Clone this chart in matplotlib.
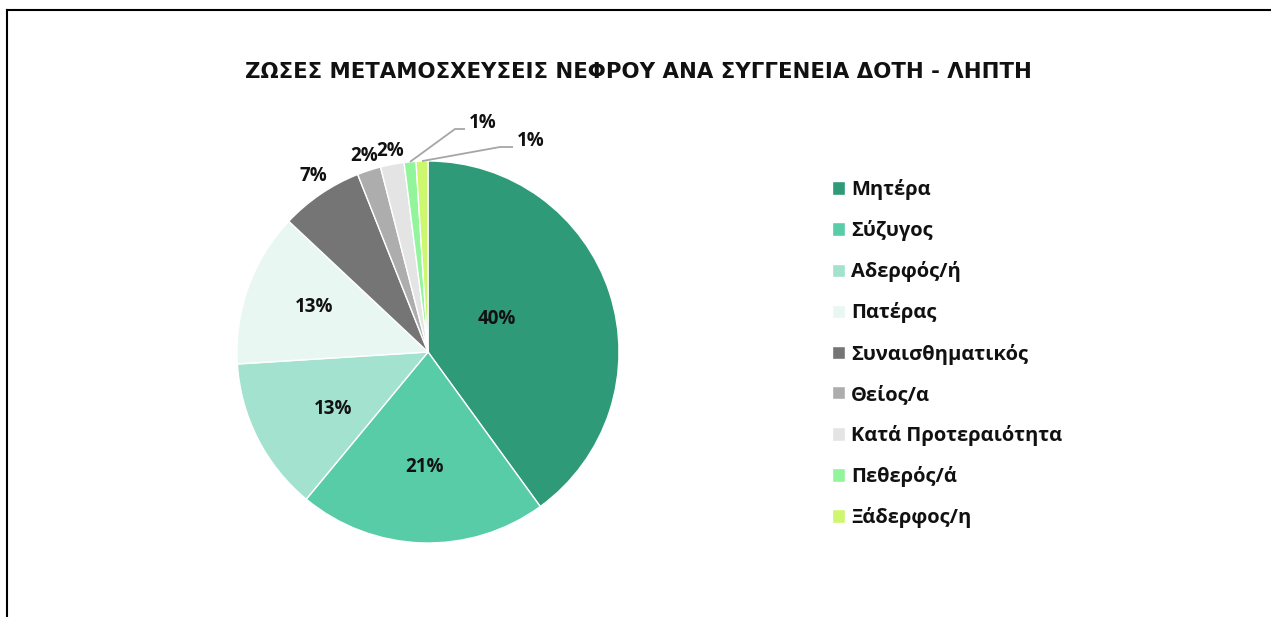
import numpy as np
import matplotlib.pyplot as plt
from matplotlib.lines import Line2D

plt.rcParams['font.family'] = ['Open Sans', 'DejaVu Sans']

title = 'ΖΩΣΕΣ ΜΕΤΑΜΟΣΧΕΥΣΕΙΣ ΝΕΦΡΟΥ ΑΝΑ ΣΥΓΓΕΝΕΙΑ ΔΟΤΗ - ΛΗΠΤΗ'
categories = ['Μητέρα', 'Σύζυγος', 'Αδερφός/ή', 'Πατέρας', 'Συναισθηματικός',
              'Θείος/α', 'Κατά Προτεραιότητα', 'Πεθερός/ά', 'Ξάδερφος/η']
values = [40, 21, 13, 13, 7, 2, 2, 1, 1]
colors = ['#2f9a78', '#58cca7', '#a3e2cf', '#e9f7f2', '#757575',
          '#adadad', '#e4e4e4', '#92f59b', '#cdf76e']

W, H = 1271, 617
fig = plt.figure(figsize=(W / 100, H / 100), dpi=100)

# pie centre / radius in pixels
cx, cy, R = 428, 352, 191
ax = fig.add_axes([(cx - R) / W, (H - cy - R) / H, 2 * R / W, 2 * R / H])
wedges, _ = ax.pie(values, colors=colors, startangle=90, counterclock=False,
                   radius=1, wedgeprops=dict(edgecolor='white', linewidth=1))
ax.set_xlim(-1, 1)
ax.set_ylim(-1, 1)
ax.set_aspect('equal')
ax.axis('off')

# label placement (radius, angle tweak) per slice
lab_r = [0.40, 0.60, 0.58, 0.64, 1.10, 1.08, 1.07, None, None]
lab_da = [8, 0, 4, -2, -1, 0, 0, 0, 0]
for i, w in enumerate(wedges):
    pct = f'{values[i]}%'
    mid = np.deg2rad((w.theta1 + w.theta2) / 2)
    if lab_r[i] is not None:
        a = mid + np.deg2rad(lab_da[i])
        ax.text(lab_r[i] * np.cos(a), lab_r[i] * np.sin(a), pct,
                ha='center', va='center', fontsize=13.5, fontweight='bold',
                color='#111111')

# leader lines for the two 1% slices
leaders = [((455 - cx) / R, (cy - 129) / R, (465 - cx) / R),
           ((500 - cx) / R, (cy - 147) / R, (513 - cx) / R)]
for w, (ex, ey, hx) in zip(wedges[7:], leaders):
    mid = np.deg2rad((w.theta1 + w.theta2) / 2)
    sx, sy = 1.0 * np.cos(mid), 1.0 * np.sin(mid)
    ax.plot([sx, ex, hx], [sy, ey, ey], color='#a6a6a6', lw=1.3,
            clip_on=False, solid_capstyle='butt')
    ax.text(hx + 0.02, ey + 0.03, '1%', ha='left', va='center',
            fontsize=13.5, fontweight='bold', color='#111111')

fig.text(638 / W, 1 - 72 / H, title, ha='center', va='center',
         fontsize=15.3, fontweight='bold', color='#111111',
         family='DejaVu Sans')

leg = fig.legend(wedges, categories, loc='upper left',
                 bbox_to_anchor=(822 / W, 1 - 169 / H), frameon=False,
                 fontsize=14.5, handlelength=0.65, handleheight=0.65,
                 handletextpad=0.3, labelspacing=1.0, borderpad=0)
for t in leg.get_texts():
    t.set_fontweight('bold')
    t.set_color('#111111')

# chart frame (left and top edges visible)
fig.add_artist(Line2D([7 / W, 7 / W], [0, 1 - 10 / H], color='black', lw=1.5))
fig.add_artist(Line2D([7 / W, 1], [1 - 10 / H, 1 - 10 / H], color='black', lw=1.5))

fig.savefig('out.png', dpi=100)
